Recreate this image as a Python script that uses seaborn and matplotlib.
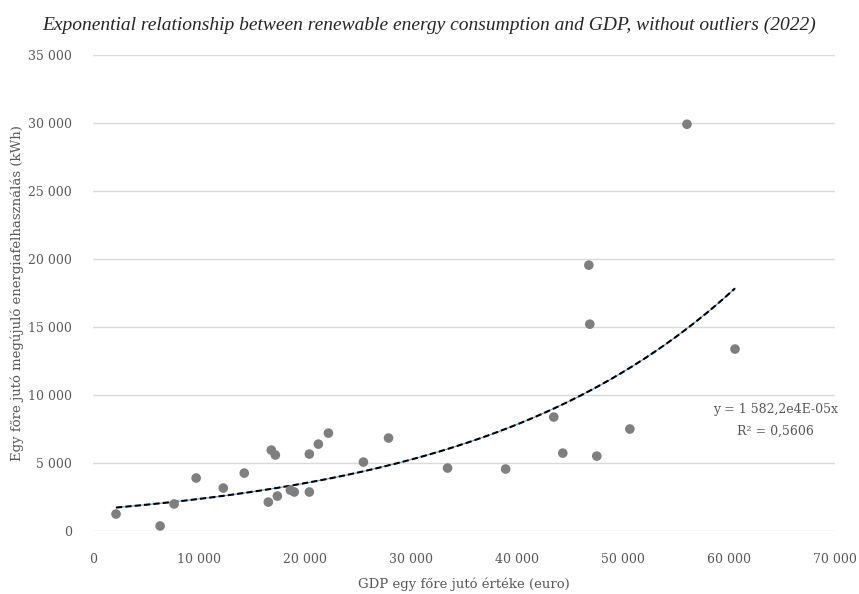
import numpy as np
import pandas as pd
import matplotlib
matplotlib.use("Agg")
import matplotlib.pyplot as plt
import seaborn as sns

# GDP per capita (euro) and renewable energy use per capita (kWh), 2022
gdp = [2170, 6330, 7650, 9730, 12290, 14270, 16540, 16820, 17200, 17390,
       18620, 18990, 20410, 20410, 21260, 22210, 25510, 27880, 33450, 38930,
       43470, 44320, 46780, 46870, 47530, 50650, 56040, 60570]
energy = [1250, 370, 1990, 3900, 3160, 4260, 2130, 5950, 5590, 2570,
          3010, 2870, 5660, 2870, 6390, 7200, 5070, 6840, 4630, 4560,
          8380, 5730, 19550, 15210, 5510, 7500, 29910, 13380]

# Exponential trendline y = a * exp(b * x)
trend_a = 1582.2
trend_b = 4e-05
r_squared = 0.5606

x_ticks = [0, 10000, 20000, 30000, 40000, 50000, 60000, 70000]
y_ticks = [0, 5000, 10000, 15000, 20000, 25000, 30000, 35000]

title = "Exponential relationship between renewable energy consumption and GDP, without outliers (2022)"
x_label = "GDP egy főre jutó értéke (euro)"
y_label = "Egy főre jutó megújuló energiafelhasználás (kWh)"
eq_text = "y = 1 582,2e4E-05x"
r2_text = "R² = 0,5606"

def fmt(v):
    return f"{int(v):,}".replace(",", " ")

sns.set_theme(style="white")
plt.rcParams["font.family"] = ["DejaVu Serif"]

df = pd.DataFrame({"gdp": gdp, "energy": energy})

fig = plt.figure(figsize=(8.59, 5.94), dpi=100)
ax = fig.add_axes([0.1083, 0.106, 0.8637, 0.8014])

for yv in y_ticks:
    ax.axhline(yv, color="#d9d9d9", lw=1.0, zorder=0)

xs = np.linspace(min(gdp), max(gdp), 300)
ys = trend_a * np.exp(trend_b * xs)
trend = pd.DataFrame({"x": xs, "y": ys})
sns.lineplot(data=trend, x="x", y="y", ax=ax, color="#5b9bd5", lw=0.8, zorder=2)
sns.lineplot(data=trend, x="x", y="y", ax=ax, color="black", lw=1.5,
             linestyle=(0, (3, 1.5)), zorder=3)

sns.scatterplot(data=df, x="gdp", y="energy", ax=ax, color="#7f7f7f",
                s=48, edgecolor="none", zorder=4)

ax.set_xlim(0, 70000)
ax.set_ylim(0, 35000)
ax.set_xticks(x_ticks)
ax.set_yticks(y_ticks)
ax.set_xticklabels([fmt(v) for v in x_ticks])
ax.set_yticklabels([fmt(v) for v in y_ticks])
ax.tick_params(axis="both", length=0, labelsize=9, colors="#595959")
ax.tick_params(axis="x", pad=16)
ax.tick_params(axis="y", pad=15)
for s in ax.spines.values():
    s.set_visible(False)

ax.set_xlabel(x_label, fontsize=9.5, color="#595959", labelpad=8)
ax.set_ylabel(y_label, fontsize=9.5, color="#595959", labelpad=3)

ax.text(70300, 8900, eq_text, ha="right", va="center", fontsize=9, color="#595959")
ax.text(64400, 7300, r2_text, ha="center", va="center", fontsize=9, color="#595959")

fig.text(0.5, 0.958, title, ha="center", va="center", fontsize=14,
         style="italic", color="#262626", family="Liberation Serif")

fig.savefig("out.png", dpi=100)
